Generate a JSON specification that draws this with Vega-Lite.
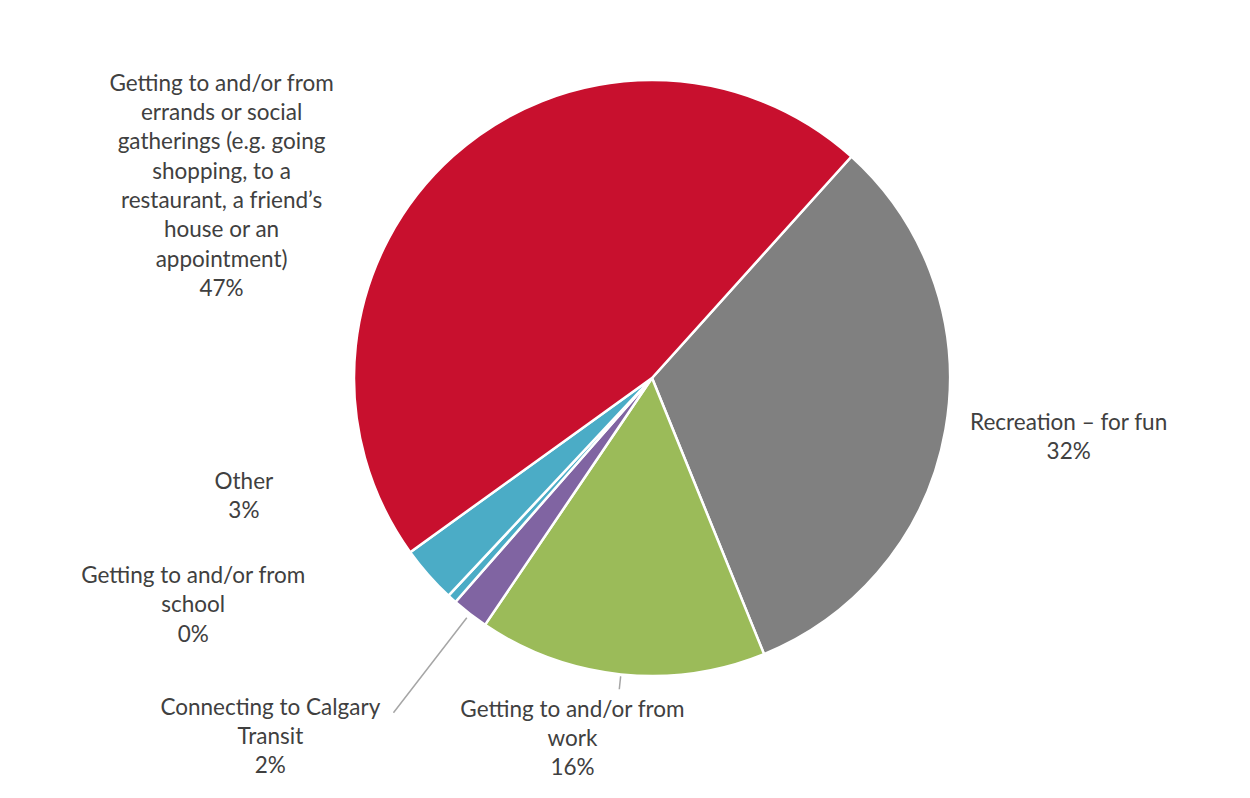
{
  "$schema": "https://vega.github.io/schema/vega-lite/v6.json",
  "width": 1196,
  "height": 756,
  "autosize": {"type": "none"},
  "padding": {"left": 54, "top": 0, "right": 0, "bottom": 42},
  "background": "white",
  "config": {"view": {"stroke": null}, "text": {"font": "Lato"}},
  "data": {
    "values": [
      {"category": "Recreation – for fun", "order": 1, "value": 32.2, "label": "Recreation – for fun\n32%"},
      {"category": "Getting to and/or from work", "order": 2, "value": 15.6, "label": "Getting to and/or from\nwork\n16%"},
      {"category": "Connecting to Calgary Transit", "order": 3, "value": 2.0, "label": "Connecting to Calgary\nTransit\n2%"},
      {"category": "Getting to and/or from school", "order": 4, "value": 0.5, "label": "Getting to and/or from\nschool\n0%"},
      {"category": "Other", "order": 5, "value": 3.1, "label": "Other\n3%"},
      {"category": "Getting to and/or from errands or social gatherings", "order": 6, "value": 46.6, "label": "Getting to and/or from\nerrands or social\ngatherings (e.g. going\nshopping, to a\nrestaurant, a friend’s\nhouse or an\nappointment)\n47%"}
    ]
  },
  "transform": [
    {"window": [{"op": "sum", "field": "value", "as": "cum"}], "sort": [{"field": "order"}]},
    {"calculate": "datum.cum - datum.value / 2", "as": "mid"}
  ],
  "layer": [
    {
      "mark": {"type": "arc", "outerRadius": 298, "stroke": "white", "strokeWidth": 2.5},
      "encoding": {
        "theta": {"field": "value", "type": "quantitative", "stack": true, "scale": {"domain": [0, 100], "range": [0.733, 7.0162]}},
        "order": {"field": "order", "type": "quantitative"},
        "color": {
          "field": "category", "type": "nominal", "legend": null,
          "scale": {
            "domain": ["Recreation – for fun", "Getting to and/or from work", "Connecting to Calgary Transit", "Getting to and/or from school", "Other", "Getting to and/or from errands or social gatherings"],
            "range": ["#808080", "#9BBB59", "#8064A2", "#4BACC6", "#4BACC6", "#C8102E"]
          }
        }
      }
    },
    {
      "transform": [{"filter": "datum.order === 2"}],
      "mark": {"type": "arc", "radius": 313, "radius2": 300, "stroke": "#A6A6A6", "strokeWidth": 1.5, "fill": null},
      "encoding": {
        "theta": {"field": "mid", "type": "quantitative", "stack": null},
        "theta2": {"field": "mid"}
      }
    },
    {
      "transform": [{"filter": "datum.order === 3"}],
      "mark": {"type": "arc", "radius": 423, "radius2": 303, "stroke": "#A6A6A6", "strokeWidth": 1.5, "fill": null},
      "encoding": {
        "theta": {"field": "mid", "type": "quantitative", "stack": null},
        "theta2": {"field": "mid"}
      }
    },
    {
      "transform": [{"filter": "datum.order === 1"}],
      "mark": {"type": "text", "radius": 421, "dx": 2, "dy": -27.6, "align": "center", "baseline": "middle", "lineBreak": "\n", "fontSize": 22.5, "lineHeight": 29.3, "fill": "#404040"},
      "encoding": {"theta": {"field": "mid", "type": "quantitative", "stack": null}, "text": {"field": "label"}}
    },
    {
      "transform": [{"filter": "datum.order === 2"}],
      "mark": {"type": "text", "radius": 369, "dx": -41, "dy": -35.3, "align": "center", "baseline": "middle", "lineBreak": "\n", "fontSize": 22.5, "lineHeight": 29.3, "fill": "#404040"},
      "encoding": {"theta": {"field": "mid", "type": "quantitative", "stack": null}, "text": {"field": "label"}}
    },
    {
      "transform": [{"filter": "datum.order === 3"}],
      "mark": {"type": "text", "radius": 523, "dx": -62, "dy": -84.3, "align": "center", "baseline": "middle", "lineBreak": "\n", "fontSize": 22.5, "lineHeight": 29.3, "fill": "#404040"},
      "encoding": {"theta": {"field": "mid", "type": "quantitative", "stack": null}, "text": {"field": "label"}}
    },
    {
      "transform": [{"filter": "datum.order === 4"}],
      "mark": {"type": "text", "radius": 512, "dx": -115, "dy": -181.3, "align": "center", "baseline": "middle", "lineBreak": "\n", "fontSize": 22.5, "lineHeight": 29.3, "fill": "#404040"},
      "encoding": {"theta": {"field": "mid", "type": "quantitative", "stack": null}, "text": {"field": "label"}}
    },
    {
      "transform": [{"filter": "datum.order === 5"}],
      "mark": {"type": "text", "radius": 425, "dx": -89, "dy": -176.6, "align": "center", "baseline": "middle", "lineBreak": "\n", "fontSize": 22.5, "lineHeight": 29.3, "fill": "#404040"},
      "encoding": {"theta": {"field": "mid", "type": "quantitative", "stack": null}, "text": {"field": "label"}}
    },
    {
      "transform": [{"filter": "datum.order === 6"}],
      "mark": {"type": "text", "radius": 471, "dx": -116, "dy": 56.4, "align": "center", "baseline": "middle", "lineBreak": "\n", "fontSize": 22.5, "lineHeight": 29.3, "fill": "#404040"},
      "encoding": {"theta": {"field": "mid", "type": "quantitative", "stack": null}, "text": {"field": "label"}}
    }
  ]
}
